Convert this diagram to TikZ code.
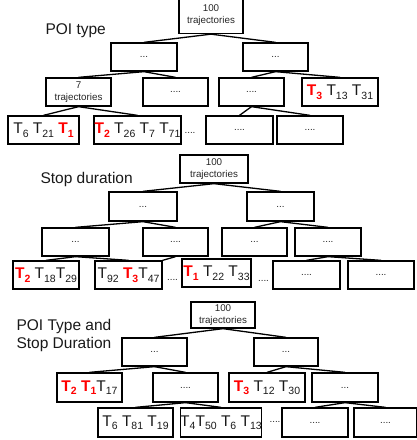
\documentclass[tikz,border=0pt]{standalone}
\usepackage{fontspec}
\setmainfont{Liberation Sans}
\usetikzlibrary{positioning}

% trajectory labels
\newcommand\traj[1]{T\lower3.5pt\hbox{\fontsize{10.5}{10.5}\selectfont #1}}
\newcommand\hit[1]{\textcolor{red}{\bfseries\traj{#1}}}

\tikzset{
  box/.style={draw, line width=1.3pt, inner sep=0pt, minimum height=28pt, align=center,
    font=\fontsize{9.8}{12}\selectfont, text=black!85},
  tlist/.style={font=\fontsize{15.5}{16}\selectfont, text=black!90},
  gap/.style={anchor=base, font=\fontsize{9.8}{12}\selectfont, text=black!85},
  heading/.style={align=left, font=\fontsize{15.5}{18}\selectfont, text=black!90},
  edge/.style={line width=1.3pt},
}

\begin{document}
\begin{tikzpicture}[x=1pt, y=-1pt]
            \useasboundingbox (0,0) rectangle (416,440);

            % POI type
            \node[heading, anchor=west] (poititle) at (42,31) {POI type};

            % Root node
            \node[box, minimum width=64pt, minimum height=36pt] (poiroot) at (211,15.5) {100\\trajectories};

            % Second stage nodes
            \node[box, minimum width=66pt] (poi2a) at (144,57) {...};
            \node[box, minimum width=65pt] (poi2b) at (275.5,57) {...};
            \draw[edge] (poiroot.south) -- (poi2a.north);
            \draw[edge] (poiroot.south) -- (poi2b.north);

            % Third stage nodes
            \node[box, minimum width=65pt] (poi3a) at (78.5,92) {7\\trajectories};
            \node[box, minimum width=65pt] (poi3b) at (175.5,92) {....};
            \node[box, minimum width=65pt] (poi3c) at (251.5,92) {....};
            \node[box, tlist, minimum width=76pt] (poi3d) at (340,92) {\hit{3} \traj{13} \traj{31}};
            \draw[edge] (poi2a.south) -- (poi3a.north);
            \draw[edge] (poi2a.south) -- (poi3b.north);
            \draw[edge] (poi2b.south) -- (poi3c.north);
            \draw[edge] (poi2b.south) -- (poi3d.north);

            % Fourth stage nodes
            \node[box, tlist, minimum width=71pt] (poi4a) at (43.5,130) {\traj{6} \traj{21} \hit{1}};
            \node[box, tlist, minimum width=87pt] (poi4b) at (137.5,130) {\hit{2} \traj{26} \traj{7} \traj{71}};
            \node[gap] (poigap) at (190,133) {....};
            \node[box, minimum width=67pt] (poi4c) at (239.5,130) {....};
            \node[box, minimum width=66pt] (poi4d) at (310,130) {....};
            \draw[edge] (poi3a.south) -- (poi4a.north);
            \draw[edge] (poi3a.south) -- (poi4b.north);
            \draw[edge] (poi3c.south) -- (poi4c.north);
            \draw[edge] (poi3c.south) -- (poi4d.north);

            % Stop duration
            \node[heading, anchor=west] (stoptitle) at (37,179) {Stop duration};

            % Root node
            \node[box, minimum width=68pt] (stoproot) at (214,169) {100\\trajectories};

            % Second stage nodes
            \node[box, minimum width=68pt, minimum height=29pt] (stop2a) at (143,206.5) {...};
            \node[box, minimum width=67pt, minimum height=29pt] (stop2b) at (280.5,206.5) {...};
            \draw[edge] (stoproot.south) -- (stop2a.north);
            \draw[edge] (stoproot.south) -- (stop2b.north);

            % Third stage nodes
            \node[box, minimum width=67pt] (stop3a) at (75.5,242) {...};
            \node[box, minimum width=65pt] (stop3b) at (175.5,242) {....};
            \node[box, minimum width=65pt] (stop3c) at (254.5,242) {...};
            \node[box, minimum width=66pt] (stop3d) at (328,242) {....};
            \draw[edge] (stop2a.south) -- (stop3a.north);
            \draw[edge] (stop2a.south) -- (stop3b.north);
            \draw[edge] (stop2b.south) -- (stop3c.north);
            \draw[edge] (stop2b.south) -- (stop3d.north);

            % Fourth stage nodes
            \node[box, tlist, minimum width=66pt] (stop4a) at (46,275) {\hit{2} \traj{18}\traj{29}};
            \node[box, tlist, minimum width=67pt] (stop4b) at (128.5,275) {\traj{92} \hit{3}\traj{47}};
            \node[gap] (stopgapa) at (172.5,280) {....};
            \node[box, tlist, minimum width=69pt] (stop4c) at (216.5,273) {\hit{1} \traj{22} \traj{33}};
            \node[gap] (stopgapb) at (263.5,281) {....};
            \node[box, minimum width=67pt] (stop4d) at (306.5,275) {....};
            \node[box, minimum width=66pt] (stop4e) at (381,275) {....};
            \draw[edge] (stop3a.south) -- (stop4a.north);
            \draw[edge] (stop3a.south) -- (stop4b.north);
            \draw[edge] (stop3b.south) -- (stop4b.north east);
            \draw[edge] (stop3d.south) -- (stop4d.north);
            \draw[edge] (stop3d.south) -- (stop4e.north);

            % POI type and stop duration
            \node[heading, anchor=west] (bothtitle) at (13,335) {POI Type and\\Stop Duration};

            % Root node
            \node[box, minimum width=64pt, minimum height=26pt] (bothroot) at (223,315) {100\\trajectories};

            % Second stage nodes
            \node[box, minimum width=65pt] (both2a) at (154.5,352) {...};
            \node[box, minimum width=64pt] (both2b) at (286,352) {...};
            \draw[edge] (bothroot.south) -- (both2a.north);
            \draw[edge] (bothroot.south) -- (both2b.north);

            % Third stage nodes
            \node[box, tlist, minimum width=65pt, minimum height=29pt] (both3a) at (89.5,387.5) {\hit{2} \hit{1}\traj{17}};
            \node[box, minimum width=65pt, minimum height=29pt] (both3b) at (185.5,387.5) {....};
            \node[box, tlist, minimum width=76pt, minimum height=29pt] (both3c) at (267,387.5) {\hit{3} \traj{12} \traj{30}};
            \node[box, minimum width=66pt, minimum height=29pt] (both3d) at (345,387.5) {...};
            \draw[edge] (both2a.south) -- (both3a.north);
            \draw[edge] (both2a.south) -- (both3b.north);
            \draw[edge] (both2b.south) -- (both3c.north);
            \draw[edge] (both2b.south) -- (both3d.north);

            % Fourth stage nodes
            \node[box, tlist, minimum width=75pt, minimum height=29pt] (both4a) at (135.5,422.5) {\traj{6} \traj{81} \traj{19}};
            \node[box, tlist, minimum width=78pt, minimum height=29pt] (both4b) at (221,422.5) {\traj{4}\traj{50} \traj{6} \traj{13}};
            \node[gap] (bothgap) at (275,422) {....};
            \node[box, minimum width=66pt, minimum height=29pt] (both4c) at (315,422.5) {....};
            \node[box, minimum width=63pt, minimum height=29pt] (both4d) at (385.5,422.5) {....};
            \draw[edge] (both3b.south) -- (both4a.north);
            \draw[edge] (both3b.south) -- (both4b.north);
            \draw[edge] (both3d.south) -- (both4c.north);
            \draw[edge] (both3d.south) -- (both4d.north);
        \end{tikzpicture}
\end{document}
